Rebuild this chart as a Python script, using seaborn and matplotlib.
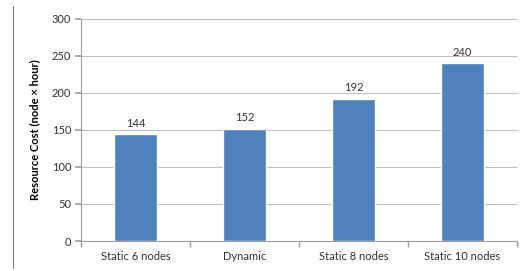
import matplotlib
matplotlib.use("Agg")
import matplotlib.pyplot as plt
import seaborn as sns
import pandas as pd
from matplotlib.lines import Line2D

categories = ["Static 6 nodes", "Dynamic", "Static 8 nodes", "Static 10 nodes"]
values = [144, 152, 192, 240]
yticks = [0, 50, 100, 150, 200, 250, 300]

sns.set_theme(style="white")
plt.rcParams['font.family'] = ['Lato', 'DejaVu Sans']

df = pd.DataFrame({"cat": categories, "val": values})

fig = plt.figure(figsize=(5.24, 2.71), dpi=100)
ax = fig.add_axes([81/524, 1-241/271, (517-81)/524, (241-19)/271])
sns.barplot(data=df, x="cat", y="val", color="#4F81BD", saturation=1, width=0.4, ax=ax)

ax.set_xlim(-0.5, len(categories)-0.5)
ax.set_ylim(0, 300)
ax.set_yticks(yticks)
ax.yaxis.grid(True, color="#BFBFBF", linewidth=0.8)
ax.set_axisbelow(True)
for s in ["top", "right"]:
    ax.spines[s].set_visible(False)
for s in ["left", "bottom"]:
    ax.spines[s].set_color("#A0A0A0")
    ax.spines[s].set_linewidth(0.8)

ax.tick_params(axis="y", which="major", left=True, length=4, color="#A0A0A0", labelsize=8, labelcolor="#333333", pad=3)
ax.tick_params(axis="x", which="major", length=0, labelsize=8, labelcolor="#333333", pad=7)
ax.set_xticks([i + 0.5 for i in range(-1, len(categories))], minor=True)
ax.tick_params(axis="x", which="minor", bottom=True, length=4, color="#A0A0A0")

ax.set_xlabel("")
ax.set_ylabel("Resource Cost (node × hour)", fontsize=8, fontweight="bold", color="black", labelpad=8)

for c in ax.containers:
    ax.bar_label(c, labels=[str(v) for v in values], padding=4, fontsize=8, color="#333333")

fig.add_artist(Line2D([13/524, 13/524], [1-268/271, 1-6/271], color="#808080", linewidth=0.8))

fig.savefig("out.png", dpi=100)
